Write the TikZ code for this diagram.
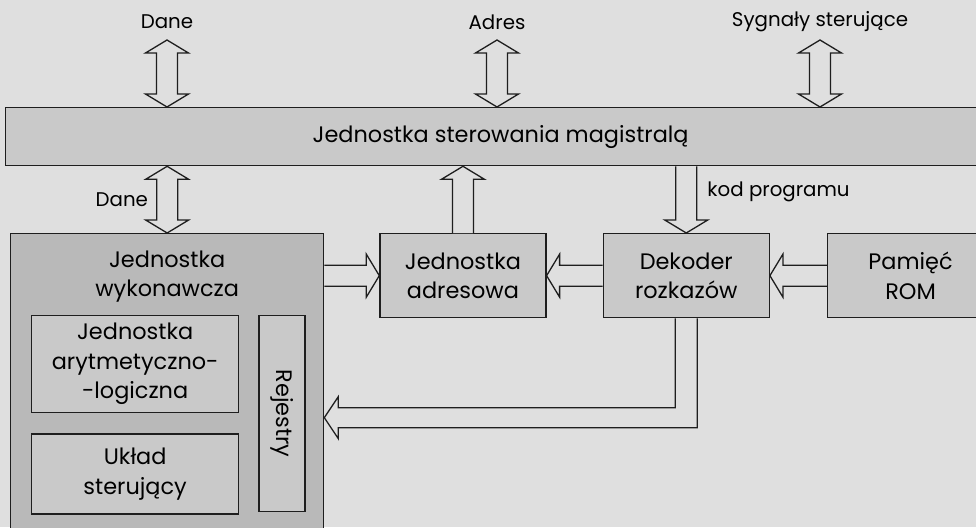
\documentclass[tikz,border=0pt]{standalone}
\usepackage{fontspec}
\setmainfont{Poppins}
\usepackage{xcolor}
\usepackage{tikz}
\usetikzlibrary{arrows.meta,positioning,calc}
\definecolor{paper}{HTML}{DFDFDF}
\definecolor{boxgray}{HTML}{C9C9C9}
\definecolor{darkgray}{HTML}{B9B9B9}
\definecolor{ink}{HTML}{1E1E1E}
\tikzset{
  unitbox/.style={
    rectangle, draw=ink, fill=#1, line width=1.3pt,
    minimum width=166pt, minimum height=84pt,
    font=\fontsize{22.4}{29.5}\selectfont, align=center,
    inner sep=0pt
  },
  unitbox/.default=boxgray,
  buslabel/.style={font=\fontsize{19.8}{24}\selectfont, inner sep=0pt},
  fatarrow/.style={draw=ink, fill=paper, line width=1.3pt, line join=miter},
}
% hollow arrow: #1 tail, #2 tip
\newcommand\hollowarrow[2]{%
  \coordinate (hb) at ($(#2)!13pt!(#1)$);
  \path[fatarrow] ($(#1)!10.5pt!90:(#2)$) -- ($(hb)!10.5pt!90:(#2)$)
    -- ($(hb)!21.5pt!90:(#2)$) -- (#2) -- ($(hb)!21.5pt!-90:(#2)$)
    -- ($(hb)!10.5pt!-90:(#2)$) -- ($(#1)!10.5pt!-90:(#2)$);
}
% hollow arrow with two heads
\newcommand\hollowdarrow[2]{%
  \coordinate (ha) at ($(#1)!13pt!(#2)$);
  \coordinate (hb) at ($(#2)!13pt!(#1)$);
  \path[fatarrow] (#1) -- ($(ha)!21.5pt!90:(#2)$) -- ($(ha)!10.5pt!90:(#2)$)
    -- ($(hb)!10.5pt!90:(#2)$) -- ($(hb)!21.5pt!90:(#2)$) -- (#2)
    -- ($(hb)!21.5pt!-90:(#2)$) -- ($(hb)!10.5pt!-90:(#2)$)
    -- ($(ha)!10.5pt!-90:(#2)$) -- ($(ha)!21.5pt!-90:(#2)$) -- cycle;
}

\begin{document}
\begin{tikzpicture}[x=1pt, y=-1pt]
  \fill[paper] (0,0) rectangle (976,527);
  \useasboundingbox (0,0) rectangle (976,527);
  \clip (0,0) rectangle (976,527);

  % bus controller
  \node[unitbox, anchor=north west, minimum width=990pt, minimum height=58pt] at (5,107) (bus) {Jednostka sterowania magistralą};
  \node[buslabel] at (167,22) (lbldane) {Dane};
  \node[buslabel] at (497,22) (lbladres) {Adres};
  \node[buslabel] at (820,22) (lblsyg) {Sygnały sterujące};
  \hollowdarrow{[yshift=-18pt]lbldane.center}{bus.north -| lbldane}
  \hollowdarrow{[yshift=-18pt]lbladres.center}{bus.north -| lbladres}
  \hollowdarrow{[yshift=-18pt]lblsyg.center}{bus.north -| lblsyg}

  % units
  \node[unitbox=darkgray, anchor=north west, minimum width=313pt, minimum height=320pt] at (10,233) (wyk) {};
  \node[font=\fontsize{22.4}{29.5}\selectfont, align=center, anchor=north] at ([yshift=-14pt]wyk.north) (wyklbl) {Jednostka\\wykonawcza};
  \node[unitbox, anchor=north west] at ([xshift=55pt]wyk.north east) (adr) {Jednostka\\adresowa};
  \node[unitbox, anchor=north west] at ([xshift=56pt]adr.north east) (dek) {Dekoder\\rozkazów};
  \node[unitbox, anchor=north west] at ([xshift=57pt]dek.north east) (rom) {Pamięć\\ROM};
  \node[unitbox, anchor=north west, minimum width=207pt, minimum height=97pt] at ([xshift=21pt, yshift=-82pt]wyk.north west) (alu) {Jednostka\\arytmetyczno-\\-logiczna};
  \node[unitbox, anchor=north, minimum width=207pt, minimum height=80pt] at ([yshift=-20pt]alu.south) (ukl) {Układ\\sterujący};
  \node[unitbox, anchor=north west, minimum width=46pt, minimum height=196pt] at ([xshift=19pt]alu.north east) (rej) {};
  \node[font=\fontsize{22.4}{29.5}\selectfont, rotate=-90] at (rej.center) (rejlbl) {Rejestry};

  % links to the bus
  \hollowdarrow{wyk.north}{bus.south -| wyk.north}
  \node[buslabel, anchor=east] at ([xshift=-19pt, yshift=33pt]wyk.north) (lbldane2) {Dane};
  \hollowarrow{adr.north}{bus.south -| adr.north}
  \hollowarrow{bus.south -| dek.north}{dek.north}
  \node[buslabel, anchor=west] at ([xshift=21pt, yshift=41pt]dek.north) (lblkod) {kod programu};

  % links between units
  \hollowarrow{wyk.east |- adr.west}{adr.west}
  \hollowarrow{dek.west}{adr.east}
  \hollowarrow{rom.west}{dek.east}
  \coordinate (fbtip) at ([yshift=-24pt]wyk.east);
  \path[fatarrow] ([xshift=-11pt]dek.south) |- ([xshift=14pt, yshift=10pt]fbtip)
    -- ([xshift=14pt, yshift=21pt]fbtip) -- (fbtip)
    -- ([xshift=14pt, yshift=-21pt]fbtip) -- ([xshift=14pt, yshift=-10pt]fbtip)
    -| ([xshift=11pt]dek.south);
\end{tikzpicture}
\end{document}
